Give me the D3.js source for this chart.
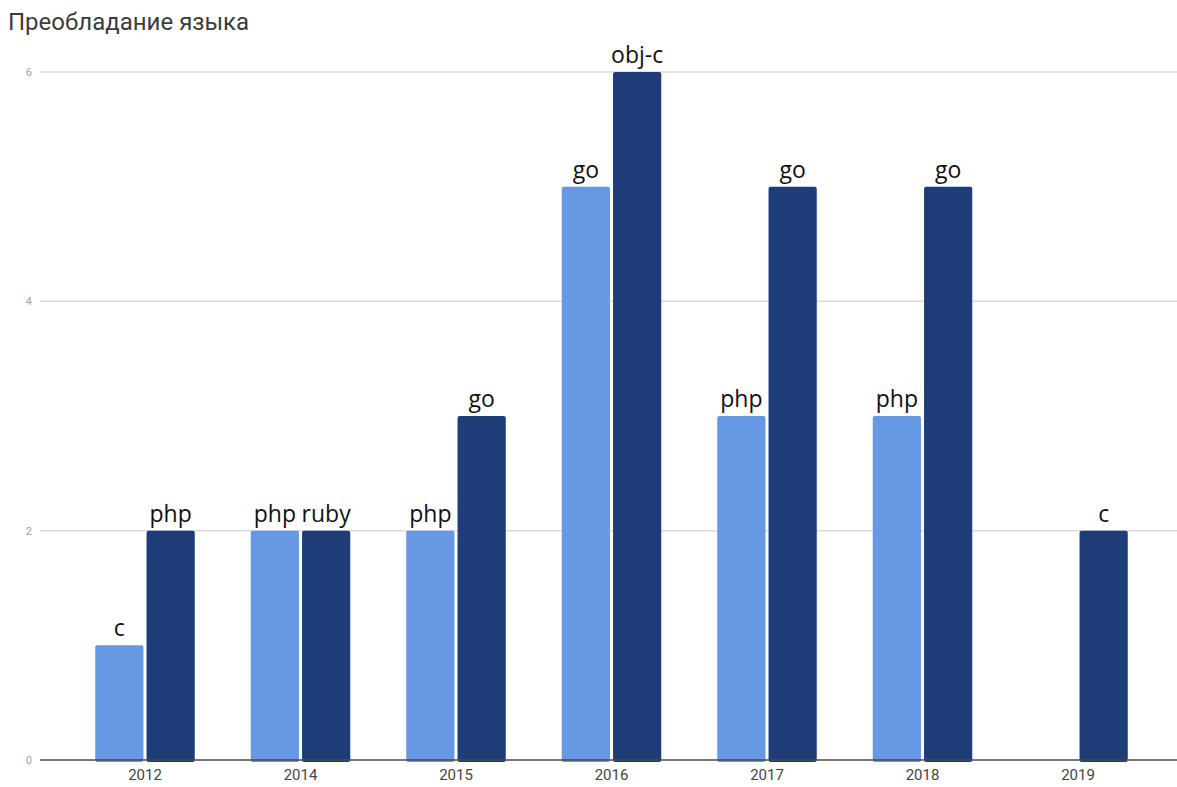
<!DOCTYPE html>
<html>
<head>
<meta charset="utf-8">
<script src="https://cdn.jsdelivr.net/npm/d3@7"></script>
<style>
  html, body { margin: 0; padding: 0; background: #fff; }
  svg { display: block; }
</style>
</head>
<body>
<svg id="chart" width="1177" height="787"></svg>
<script>
// Years on the x axis
const years = ["2012", "2014", "2015", "2016", "2017", "2018", "2019"];
// First series (light bars): counts and their language names
const lightValues = [1, 2, 2, 5, 3, 3, null];
const lightLabels = ["c", "php", "php", "go", "php", "php", ""];
// Second series (dark bars)
const darkValues = [2, 2, 3, 6, 5, 5, 2];
const darkLabels = ["php", "ruby", "go", "obj-c", "go", "go", "c"];
// Y axis ticks
const yTicks = [0, 2, 4, 6];

const title = "Преобладание языка";

const svg = d3.select("#chart");
const plot = { left: 40, right: 1177, top: 72, bottom: 760 };

const x = d3.scaleBand()
  .domain(years)
  .range([67.25, 1155.75])
  .paddingInner(0.36)
  .paddingOuter(0.18);

const sub = d3.scaleBand()
  .domain(["light", "dark"])
  .range([0, x.bandwidth()])
  .paddingInner(0.06);

const y = d3.scaleLinear().domain([0, 6]).range([plot.bottom, plot.top]);

// Title
svg.append("text")
  .attr("x", 8).attr("y", 30)
  .attr("font-family", "Roboto, 'Open Sans', sans-serif")
  .attr("font-size", 24)
  .attr("fill", "#3c3c3c")
  .text(title);

// Gridlines
svg.append("g").selectAll("line")
  .data(yTicks.filter(t => t !== 0))
  .join("line")
  .attr("x1", plot.left).attr("x2", plot.right)
  .attr("y1", d => y(d)).attr("y2", d => y(d))
  .attr("stroke", "#d9d9d9").attr("stroke-width", 1.5);

// Y tick labels
svg.append("g").selectAll("text")
  .data(yTicks)
  .join("text")
  .attr("x", 32).attr("y", d => y(d) + 4)
  .attr("text-anchor", "end")
  .attr("font-family", "Roboto, sans-serif")
  .attr("font-size", 11)
  .attr("fill", "#a0a0a0")
  .text(d => d);

// Bars
const series = [
  { key: "light", values: lightValues, labels: lightLabels, color: "#6698e3" },
  { key: "dark", values: darkValues, labels: darkLabels, color: "#1e3d78" }
];

const rows = [];
series.forEach(s => {
  years.forEach((yr, i) => {
    if (s.values[i] != null) {
      rows.push({ key: s.key, year: yr, value: s.values[i], label: s.labels[i], color: s.color });
    }
  });
});

svg.append("g").selectAll("rect")
  .data(rows)
  .join("rect")
  .attr("x", d => x(d.year) + sub(d.key))
  .attr("y", d => y(d.value))
  .attr("width", sub.bandwidth())
  .attr("height", d => y(0) - y(d.value) + 2)
  .attr("rx", 2).attr("ry", 2)
  .attr("fill", d => d.color);

// Baseline
svg.append("line")
  .attr("x1", plot.left).attr("x2", plot.right)
  .attr("y1", y(0)).attr("y2", y(0))
  .attr("stroke", "#4a4a4a").attr("stroke-width", 1.5);

// Bar labels
svg.append("g").selectAll("text")
  .data(rows)
  .join("text")
  .attr("x", d => x(d.year) + sub(d.key) + sub.bandwidth() / 2)
  .attr("y", d => y(d.value) - 9)
  .attr("text-anchor", "middle")
  .attr("font-family", "'Open Sans', Lato, sans-serif")
  .attr("font-size", 23)
  .attr("fill", "#111")
  .text(d => d.label);

// X axis labels
svg.append("g").selectAll("text")
  .data(years)
  .join("text")
  .attr("x", d => x(d) + x.bandwidth() / 2)
  .attr("y", 780)
  .attr("text-anchor", "middle")
  .attr("font-family", "Roboto, sans-serif")
  .attr("font-size", 15)
  .attr("fill", "#444")
  .text(d => d);
</script>
</body>
</html>
